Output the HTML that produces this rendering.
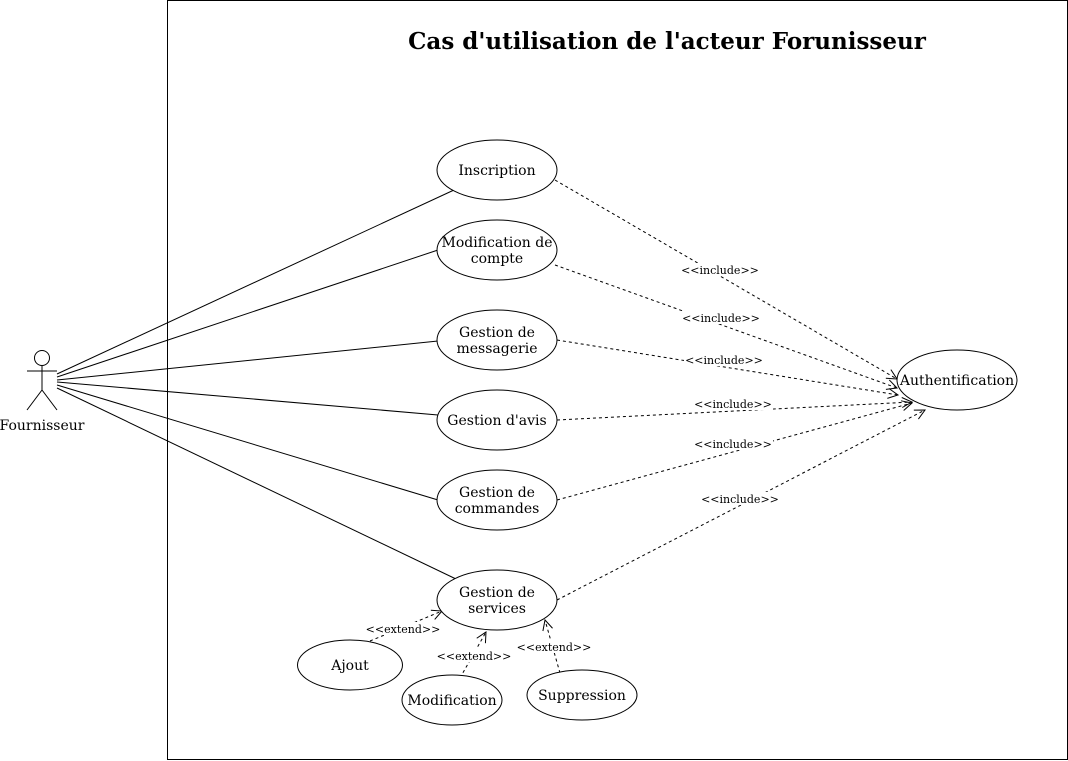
<!DOCTYPE html>
<html><head><meta charset="utf-8"><style>
html,body{margin:0;padding:0;background:#fff;}
svg{display:block;font-family:"DejaVu Serif","Liberation Serif",serif;}
</style></head><body>
<svg width="1068" height="761" viewBox="0 0 1068 761" xmlns="http://www.w3.org/2000/svg">
<defs>
<marker id="oa" viewBox="0 0 12 12" refX="11" refY="6" markerWidth="12" markerHeight="12" orient="auto" markerUnits="userSpaceOnUse">
<path d="M1,1 L11,6 L1,11" fill="none" stroke="#000" stroke-width="1"/>
</marker>
</defs>
<rect x="167.5" y="0.5" width="900" height="759" fill="#fff" stroke="#000"/>
<text x="667" y="49" text-anchor="middle" font-size="23" font-weight="bold">Cas d'utilisation de l'acteur Forunisseur</text>

<g stroke="#000" fill="none">
<circle cx="42" cy="358" r="7.5" fill="#fff"/>
<line x1="42" y1="366" x2="42" y2="390"/>
<line x1="27" y1="371" x2="57" y2="371"/>
<line x1="42" y1="390" x2="27" y2="410"/>
<line x1="42" y1="390" x2="57" y2="410"/>
<line x1="57" y1="374" x2="454" y2="190"/>
<line x1="57" y1="377" x2="438" y2="250"/>
<line x1="57" y1="380" x2="438" y2="341"/>
<line x1="57" y1="382" x2="438" y2="415"/>
<line x1="57" y1="385" x2="438" y2="500"/>
<line x1="57" y1="388" x2="456" y2="579"/>
</g>
<text x="42" y="430" text-anchor="middle" font-size="14">Fournisseur</text>

<g stroke="#000" fill="none" stroke-dasharray="3,3" marker-end="url(#oa)">
<line x1="555" y1="180" x2="897" y2="379"/>
<line x1="555" y1="265" x2="897" y2="388"/>
<line x1="557" y1="340" x2="898" y2="395"/>
<line x1="557" y1="420" x2="912" y2="402"/>
<line x1="557" y1="500" x2="912" y2="403"/>
<line x1="557" y1="600" x2="925" y2="410"/>
<line x1="370" y1="641" x2="442" y2="611"/>
<line x1="460" y1="678" x2="486" y2="632"/>
<line x1="560" y1="673" x2="545" y2="620"/>
</g>
<g font-size="11" text-anchor="middle">
<rect x="680" y="263" width="80" height="13" fill="#fff"/><text x="720" y="274">&lt;&lt;include&gt;&gt;</text>
<rect x="681" y="311" width="80" height="13" fill="#fff"/><text x="721" y="322">&lt;&lt;include&gt;&gt;</text>
<rect x="684" y="353" width="80" height="13" fill="#fff"/><text x="724" y="364">&lt;&lt;include&gt;&gt;</text>
<rect x="693" y="397" width="80" height="13" fill="#fff"/><text x="733" y="408">&lt;&lt;include&gt;&gt;</text>
<rect x="693" y="437" width="80" height="13" fill="#fff"/><text x="733" y="448">&lt;&lt;include&gt;&gt;</text>
<rect x="700" y="492" width="80" height="13" fill="#fff"/><text x="740" y="503">&lt;&lt;include&gt;&gt;</text>
<rect x="365" y="622" width="76" height="13" fill="#fff"/><text x="403" y="633">&lt;&lt;extend&gt;&gt;</text>
<rect x="436" y="649" width="76" height="13" fill="#fff"/><text x="474" y="660">&lt;&lt;extend&gt;&gt;</text>
<rect x="516" y="640" width="76" height="13" fill="#fff"/><text x="554" y="651">&lt;&lt;extend&gt;&gt;</text>
</g>

<g stroke="#000" fill="#fff">
<ellipse cx="497" cy="170" rx="60" ry="30"/>
<ellipse cx="497" cy="250" rx="60" ry="30"/>
<ellipse cx="497" cy="340" rx="60" ry="30"/>
<ellipse cx="497" cy="420" rx="60" ry="30"/>
<ellipse cx="497" cy="500" rx="60" ry="30"/>
<ellipse cx="497" cy="600" rx="60" ry="30"/>
<ellipse cx="957" cy="380" rx="60" ry="30"/>
<ellipse cx="350" cy="665" rx="52.5" ry="25"/>
<ellipse cx="452" cy="700" rx="50" ry="25"/>
<ellipse cx="582" cy="695" rx="55" ry="25"/>
</g>
<g font-size="14" text-anchor="middle">
<text x="497" y="175">Inscription</text>
<text x="497" y="247">Modification de</text><text x="497" y="263">compte</text>
<text x="497" y="337">Gestion de</text><text x="497" y="353">messagerie</text>
<text x="497" y="425">Gestion d'avis</text>
<text x="497" y="497">Gestion de</text><text x="497" y="513">commandes</text>
<text x="497" y="597">Gestion de</text><text x="497" y="613">services</text>
<text x="957" y="385">Authentification</text>
<text x="350" y="670">Ajout</text>
<text x="452" y="705">Modification</text>
<text x="582" y="700">Suppression</text>
</g>
</svg>
</body></html>
